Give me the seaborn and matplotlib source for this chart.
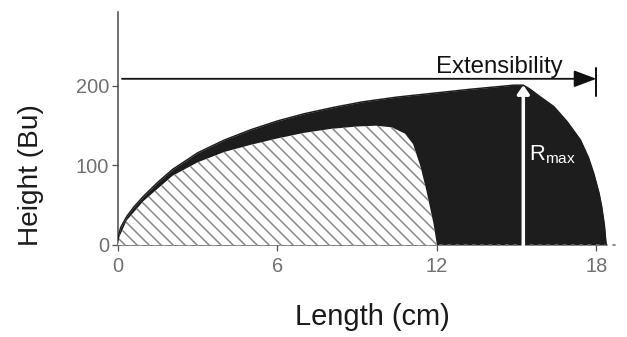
import matplotlib
matplotlib.use("Agg")
import matplotlib.pyplot as plt
import seaborn as sns
import pandas as pd

# Extensogram: dough resistance (Bu) against stretched length (cm)
dark_x = [0, 0.02, 0.1, 0.33, 0.6, 0.95, 1.5, 2.05, 3.0, 4.0, 5.0, 6.0, 7.0,
          8.1, 9.2, 10.5, 11.9, 13.3, 14.9, 15.25, 15.5, 15.9, 16.4, 16.9, 17.4,
          17.7, 17.9, 18.1, 18.2, 18.3, 18.35, 18.37]
dark_y = [0, 12, 22, 36, 48, 61, 79, 95, 116, 132, 145, 156, 165,
          173, 180, 186, 191, 196, 201, 201, 196, 186, 174, 155, 132,
          110, 90, 65, 48, 25, 6, 0]

hatch_x = [0, 0.05, 0.33, 0.95, 2.05, 3.0, 4.0, 5.0, 6.0, 7.0, 8.0, 9.0, 9.7,
           10.3, 10.8, 11.1, 11.37, 11.6, 11.87, 12.0]
hatch_y = [0, 10, 31, 55, 87, 104, 117, 126, 134, 141, 146, 149, 150,
           148, 140, 127, 100, 69, 27, 0]

x_ticks = [0, 6, 12, 18]
y_ticks = [0, 100, 200]
r_max_x = 15.25
r_max = 201
extensibility = 18
arrow_level = 209

sns.set_style("white")
plt.rcParams["font.family"] = ["Liberation Sans", "DejaVu Sans"]
plt.rcParams["mathtext.fontset"] = "custom"
plt.rcParams["mathtext.rm"] = "Liberation Sans"
plt.rcParams["hatch.linewidth"] = 1.5

W, H, DPI = 627, 337, 72
fig = plt.figure(figsize=(W / DPI, H / DPI), dpi=DPI)
ax = fig.add_axes([118 / W, 1 - 245 / H, 497 / W, 233 / H])
ax.set_xlim(0, 18.7)
ax.set_ylim(0, 293)

dark = pd.DataFrame({"length": dark_x, "height": dark_y})
hatched = pd.DataFrame({"length": hatch_x, "height": hatch_y})

ink = "#1d1d1d"
ax.fill_between(dark["length"], 0, dark["height"], color=ink, lw=0, zorder=2)
sns.lineplot(data=dark, x="length", y="height", ax=ax, color=ink, lw=1.5,
             sort=False, estimator=None, zorder=3)
ax.fill_between(hatched["length"], 0, hatched["height"], facecolor="white",
                edgecolor="#858585", hatch="\\\\", lw=0, zorder=4)

# Extensibility arrow with end bar
ax.annotate("", xy=(extensibility, arrow_level), xytext=(0.15, arrow_level),
            arrowprops=dict(arrowstyle="-|>,head_length=0.8,head_width=0.3",
                            color="#111111", lw=1.8, mutation_scale=24,
                            shrinkA=0, shrinkB=0), zorder=6, annotation_clip=False)
ax.plot([extensibility, extensibility], [187, 223], color="#111111", lw=2,
        zorder=6, clip_on=False)
ax.text(14.35, arrow_level + 1, "Extensibility", ha="center", va="bottom",
        fontsize=24, color="#111111", zorder=7)

# Maximum resistance marker
ax.annotate("", xy=(r_max_x, r_max), xytext=(r_max_x, 0),
            arrowprops=dict(arrowstyle="-|>,head_length=0.5,head_width=0.35",
                            color="white", lw=3.5, mutation_scale=14,
                            shrinkA=0, shrinkB=0), zorder=6)
ax.text(15.45, 113, r"$\mathregular{R_{max}}$", ha="left", va="center",
        fontsize=22, color="white", zorder=7)

sns.despine(ax=ax, top=True, right=True)
ax.spines["left"].set_color("#444444")
ax.spines["left"].set_linewidth(1.5)
ax.spines["bottom"].set_color("#777777")
ax.spines["bottom"].set_linewidth(1.5)
ax.spines["bottom"].set_linestyle((0, (1.5, 4)))

ax.set_xticks(x_ticks)
ax.set_yticks(y_ticks)
ax.set_xticklabels([str(v) for v in x_ticks])
ax.set_yticklabels([str(v) for v in y_ticks])
for lab in ax.get_xticklabels() + ax.get_yticklabels():
    lab.set_fontsize(20)
    lab.set_color("#707070")
ax.tick_params(axis="both", direction="out", length=6, width=1.3,
               color="#555555", bottom=True, left=True)
ax.tick_params(axis="x", pad=6)
ax.tick_params(axis="y", pad=3)

ax.set_xlabel("")
ax.set_ylabel("")
fig.text(372 / W, 1 - 317 / H, "Length (cm)", ha="center", va="center",
         fontsize=29, color="#1a1a1a")
fig.text(31 / W, 1 - 175 / H, "Height (Bu)", ha="center", va="center",
         rotation=90, fontsize=28, color="#1a1a1a")

fig.savefig("out.png", dpi=DPI, facecolor="white")
